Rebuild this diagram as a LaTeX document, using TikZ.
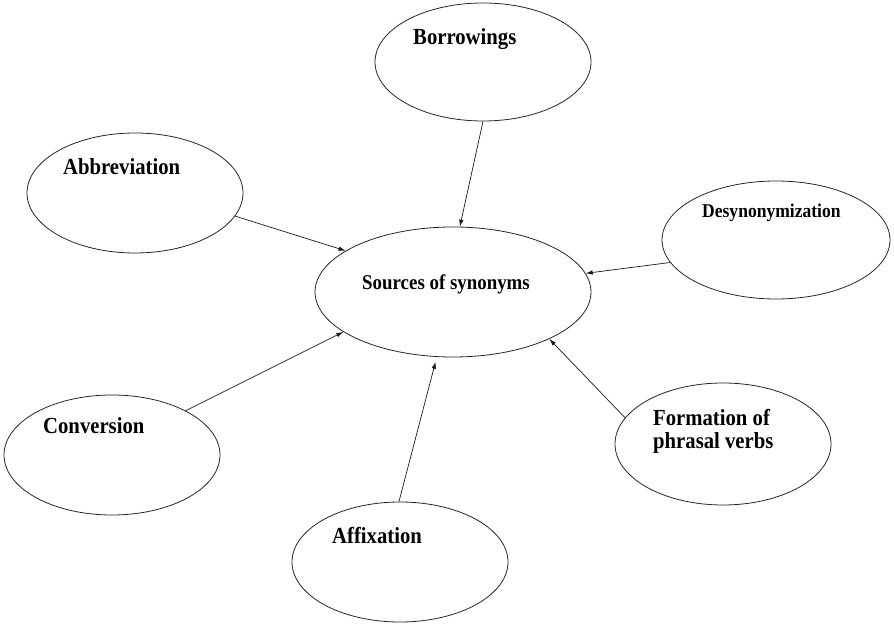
\documentclass[tikz,border=0pt]{standalone}
\usepackage{fontspec}
\newfontfamily\lblfont[FakeStretch=0.9]{Liberation Serif}
\usetikzlibrary{shapes,arrows.meta,calc}
\tikzset{
  >={Latex[length=7pt,width=4.5pt]},
  conn/.style={->,line width=0.7pt,draw=black!90},
  oval/.style args={#1,#2}{
  ellipse,
  draw=black!85,
  line width=0.8pt,
  inner sep=0pt,
  minimum width=#1pt,
  minimum height=#2pt,
  },
  txt/.style={font=\lblfont\bfseries\fontsize{23}{23}\selectfont,anchor=base west,inner sep=0pt},
  smalltxt/.style={txt,font=\lblfont\bfseries\fontsize{19.5}{20}\selectfont},
  midtxt/.style={txt,font=\lblfont\bfseries\fontsize{21}{22}\selectfont}
}
\begin{document}
\begin{tikzpicture}[x=1pt,y=1pt]
  \useasboundingbox (0,0) rectangle (894,626);

  \node [oval={276,130}] (src) at (453,334) {};

  \node [oval={216,118}] (borrow) at (483,564) {};
  \node [oval={216,120}] (abbr) at (135,433) {};
  \node [oval={228,118}] (desyn) at (776,386) {};
  \node [oval={216,120}] (conv) at (112,171) {};
  \node [oval={216,122}] (form) at (723,182) {};
  \node [oval={216,120}] (affix) at (400,64) {};

  \node [midtxt] (srct) at ($(src)+(-91,2)$) {Sources of synonyms};
  \node [txt] (borrowt) at ($(borrow)+(-70,17)$) {Borrowings};
  \node [txt] (abbrt) at ($(abbr)+(-72,18)$) {Abbreviation};
  \node [smalltxt] (desynt) at ($(desyn)+(-74,22)$) {Desynonymization};
  \node [txt] (convt) at ($(conv)+(-69,21)$) {Conversion};
  \node [txt,align=left,anchor=north west] (formt) at ($(form)+(-70,35)$) {Formation of\\phrasal verbs};
  \node [txt] (affixt) at ($(affix)+(-68,18)$) {Affixation};

  \draw [conn] (borrow.-90) -- (src.84);
  \draw [conn] (abbr.-13) -- (src.159);
  \draw [conn] (desyn.192) -- (src.8);
  \draw [conn] (conv.31) -- (src.200);
  \draw [conn,shorten >=5pt] (affix.91) -- (src.256);
  \draw [conn] (form.165) -- (src.-26);
\end{tikzpicture}
\end{document}
